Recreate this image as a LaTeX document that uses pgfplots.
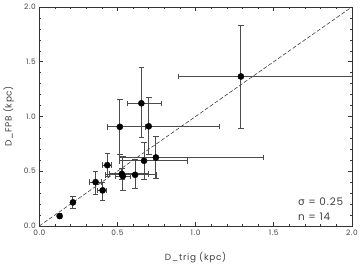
\documentclass[border=0pt]{standalone}
\usepackage{fontspec}
\setmainfont{Poppins}[LetterSpace=8]
\newfontfamily\grk{DejaVu Sans}
\usepackage{pgfplots}
\pgfplotsset{compat=1.18}
\usepackage{pgfplotstable}
\definecolor{txt}{gray}{0.25}
\definecolor{ebar}{gray}{0.3}
\pgfplotstableread{
x      y      xm     xp     ym     yp
0.13   0.09   0.010  0.010  0.010  0.010
0.215  0.215  0.010  0.010  0.055  0.055
0.36   0.40   0.040  0.037  0.110  0.100
0.405  0.325  0.032  0.025  0.090  0.075
0.435  0.555  0.030  0.023  0.100  0.110
0.515  0.905  0.080  0.164  0.247  0.253
0.528  0.475  0.078  0.172  0.050  0.050
0.534  0.455  0.050  0.050  0.131  0.181
0.613  0.467  0.188  0.137  0.128  0.139
0.653  1.120  0.089  0.127  0.308  0.328
0.670  0.595  0.155  0.276  0.171  0.172
0.700  0.910  0.185  0.454  0.258  0.266
0.746  0.625  0.237  0.688  0.192  0.193
1.290  1.365  0.400  0.800  0.475  0.470
}\datatable
\begin{document}
\begin{tikzpicture}
\begin{axis}[
  scale only axis,
  width=314bp, height=220bp,
  xmin=0, xmax=2, ymin=0, ymax=2,
  xtick={0,0.5,1,1.5,2}, ytick={0,0.5,1,1.5,2},
  minor tick num=4,
  tick align=inside,
  major tick length=4bp, minor tick length=2bp,
  every tick/.style={color=black!80, line width=0.5pt},
  axis line style={black!80, line width=0.7pt},
  /pgf/number format/fixed,
  /pgf/number format/fixed zerofill,
  /pgf/number format/precision=1,
  /pgf/number format/assume math mode=true,
  tick label style={font=\fontsize{7.5}{8}\selectfont, color=txt},
  label style={font=\fontsize{9}{10}\selectfont, color=txt},
  xlabel={D\_trig (kpc)},
  ylabel={D\_FPB (kpc)},
  xlabel style={yshift=-9bp},
  ylabel style={yshift=3bp},
  xticklabel style={yshift=-1bp},
  clip=true,
]
\addplot[black!80, line width=0.55pt, dash pattern=on 4pt off 2pt] coordinates {(0,0) (2,2)};
\addplot[only marks, mark=*, mark size=3.1bp, mark options={fill=black, draw=black},
  error bars/.cd, x dir=both, x explicit, y dir=both, y explicit,
  error bar style={ebar, line width=0.9pt},
  error mark options={rotate=90, mark size=2.8bp, ebar, line width=0.7pt}]
  table[x=x, y=y, x error minus=xm, x error plus=xp, y error minus=ym, y error plus=yp] {\datatable};
\node[anchor=west, font=\fontsize{10.5}{11}\selectfont, color=txt, inner sep=0pt] at (axis cs:1.655,0.22) {{\grk σ} = 0.25};
\node[anchor=west, font=\fontsize{10.5}{11}\selectfont, color=txt, inner sep=0pt] at (axis cs:1.655,0.085) {n = 14};
\end{axis}
\useasboundingbox ([shift={(-39bp,-36bp)}]current axis.south west) rectangle ([shift={(8bp,7bp)}]current axis.north east);
\end{tikzpicture}
\end{document}
